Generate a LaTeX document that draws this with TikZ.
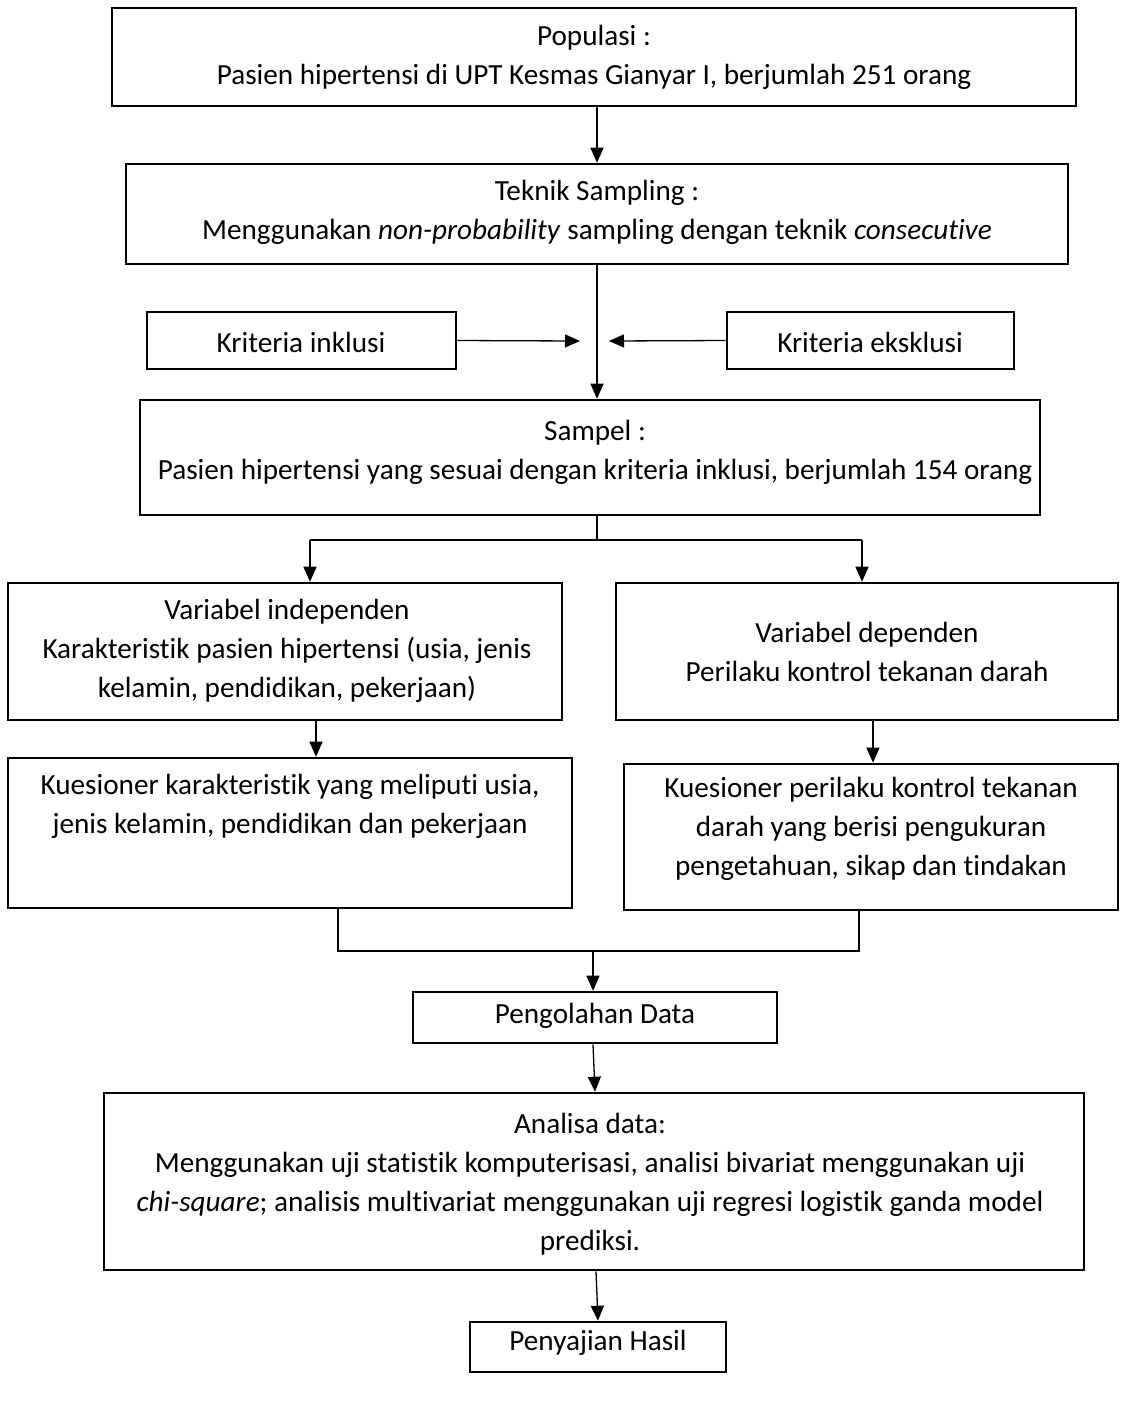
\documentclass[tikz,border=0pt]{standalone}
\usepackage{fontspec}
\setmainfont{Carlito}[Ligatures={NoCommon}]
\usetikzlibrary{arrows.meta,fit}
\begin{document}
\begin{tikzpicture}[x=0.5pt,y=-0.5pt,
  box/.style={draw, line width=1.3pt, inner sep=0pt},
  txt/.style={align=center, inner sep=0pt, font=\fontsize{14.6}{19.5}\selectfont},
  conn/.style={line width=0.65pt},
  arr/.style={conn,-{Triangle[length=7.5pt,width=6.5pt]}}]
\useasboundingbox (0,0) rectangle (1122,1405);
% boxes
\node[box, fit={(112,8)(1076,106)}] (pop) {};
\node[txt] (popT) at (594,57) {Populasi :\\Pasien hipertensi di UPT Kesmas Gianyar I, berjumlah 251 orang};
\node[box, fit={(126,164)(1068,264)}] (tek) {};
\node[txt] (tekT) at (597,212) {Teknik Sampling :\\Menggunakan \textit{non-probability} sampling dengan teknik \textit{consecutive}};
\node[box, fit={(147,312)(456,369)}] (ink) {};
\node[txt] (inkT) at (301,342) {Kriteria inklusi};
\node[box, fit={(727,312)(1014,369)}] (eks) {};
\node[txt] (eksT) at (870,342) {Kriteria eksklusi};
\node[box, fit={(140,400)(1040,515)}] (sam) {};
\node[txt] (samT) at (595,452) {Sampel :\\Pasien hipertensi yang sesuai dengan kriteria inklusi, berjumlah 154 orang};
\node[box, fit={(8,583)(562,720)}] (vL) {};
\node[txt] (vLT) at (287,651) {Variabel independen\\Karakteristik pasien hipertensi (usia, jenis\\kelamin, pendidikan, pekerjaan)};
\node[box, fit={(616,583)(1118,720)}] (vR) {};
\node[txt] (vRT) at (867,652) {Variabel dependen\\Perilaku kontrol tekanan darah};
\node[box, fit={(8,758)(572,908)}] (kL) {};
\node[txt] (kLT) at (290,806) {Kuesioner karakteristik yang meliputi usia,\\jenis kelamin, pendidikan dan pekerjaan};
\node[box, fit={(624,764)(1118,910)}] (kR) {};
\node[txt] (kRT) at (871,829) {Kuesioner perilaku kontrol tekanan\\darah yang berisi pengukuran\\pengetahuan, sikap dan tindakan};
\node[box, fit={(413,992)(777,1043)}] (olah) {};
\node[txt] (olahT) at (595,1016) {Pengolahan Data};
\node[box, fit={(104,1093)(1084,1270)}] (ana) {};
\node[txt] (anaT) at (590,1184) {Analisa data:\\Menggunakan uji statistik komputerisasi, analisi bivariat menggunakan uji\\\textit{chi-square}; analisis multivariat menggunakan uji regresi logistik ganda model\\prediksi.};
\node[box, fit={(470,1322)(726,1372)}] (saji) {};
\node[txt] (sajiT) at (598,1343) {Penyajian Hasil};
% helper coordinates
\coordinate (cx) at (597,0);
\coordinate (inkE) at (580,341);
\coordinate (eksE) at (609,341);
\coordinate (split) at (597,540);
\coordinate (sL) at (310,540);
\coordinate (sR) at (862,540);
\coordinate (aL) at (316,0);
\coordinate (aR) at (873,0);
\coordinate (mL) at (338,951);
\coordinate (mR) at (859,951);
\coordinate (mC) at (593,951);
\coordinate (oC) at (593,0);
\coordinate (oC2) at (595,0);
\coordinate (pC) at (596,0);
\coordinate (pC2) at (598,0);
% connectors
\draw[arr] (pop.south -| cx) -- (tek.north -| cx);
\draw[arr] (tek.south -| cx) -- (sam.north -| cx);
\draw[arr] (ink.east) -- (inkE);
\draw[arr] (eks.west) -- (eksE);
\draw[conn] (sam.south -| cx) -- (split);
\draw[conn] (sL) -- (sR);
\draw[arr] (sL) -- (vL.north -| sL);
\draw[arr] (sR) -- (vR.north -| sR);
\draw[arr] (vL.south -| aL) -- (kL.north -| aL);
\draw[arr] (vR.south -| aR) -- (kR.north -| aR);
\draw[conn] (kL.south -| mL) -- (mL) -- (mR) -- (kR.south -| mR);
\draw[arr] (mC) -- (olah.north -| mC);
\draw[arr] (olah.south -| oC) -- (ana.north -| oC2);
\draw[arr] (ana.south -| pC) -- (saji.north -| pC2);
\end{tikzpicture}
\end{document}
